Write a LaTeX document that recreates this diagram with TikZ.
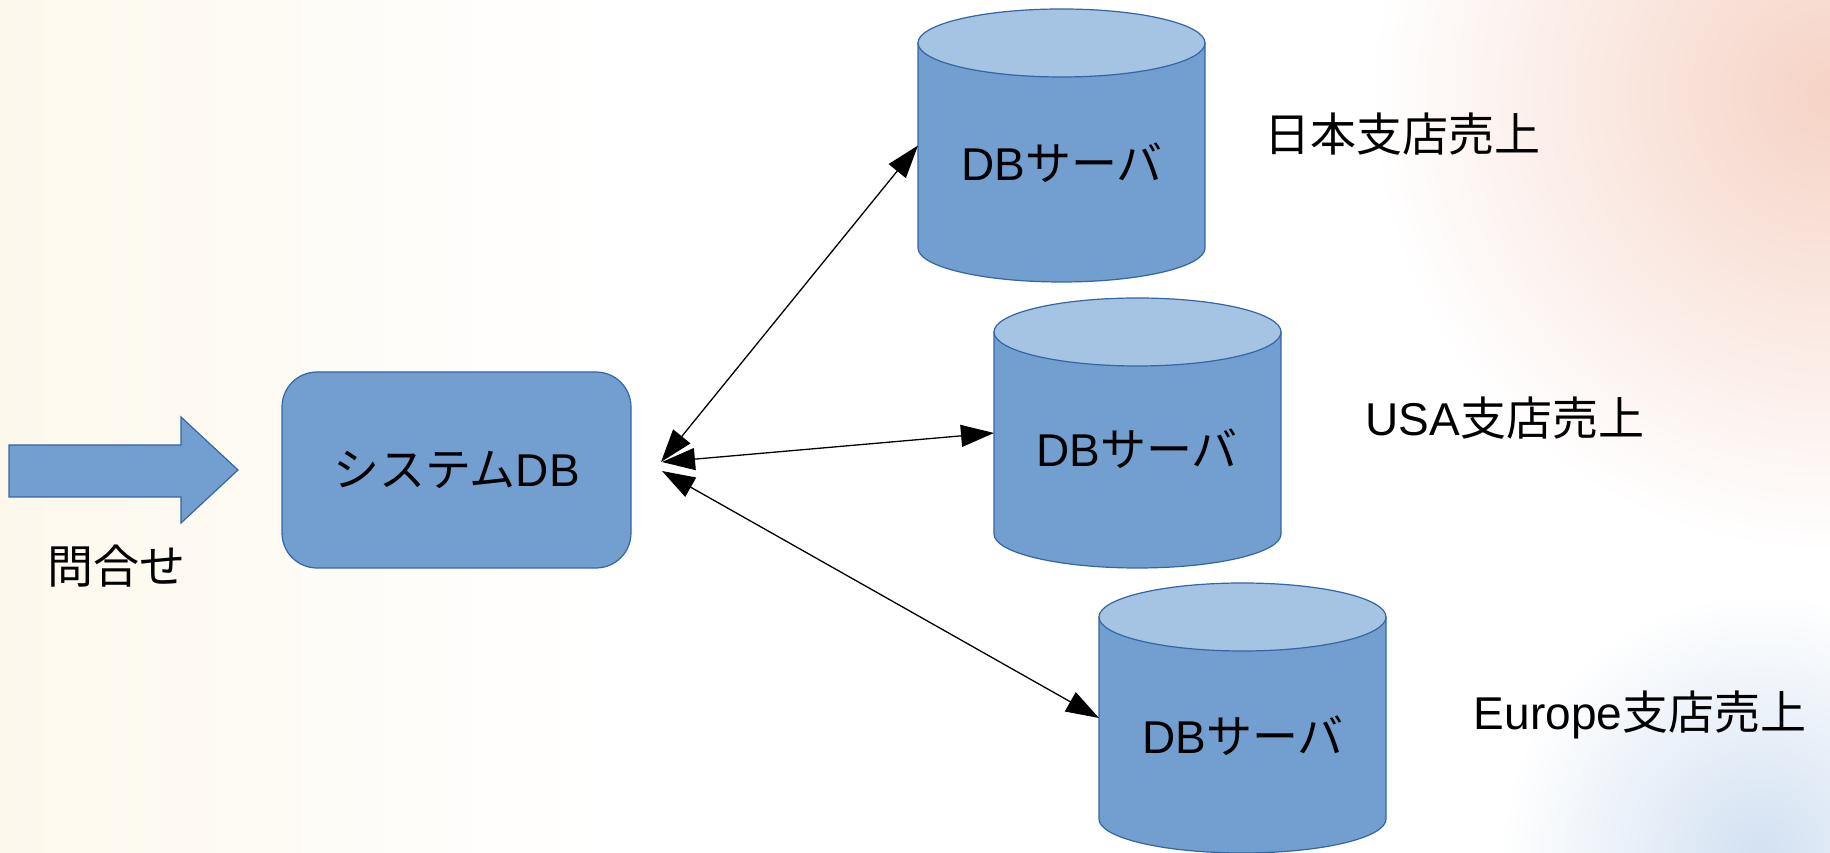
\documentclass[tikz,border=0pt]{standalone}
\usepackage{fontspec}
\setmainfont{Liberation Sans}
\newfontfamily\jp{Noto Sans CJK JP}
\usetikzlibrary{arrows.meta}
\definecolor{dbfill}{HTML}{729FCF}
\definecolor{dbtop}{HTML}{A5C3E3}
\definecolor{dbline}{HTML}{3465A4}
\definecolor{warm}{HTML}{FDF8EC}
\definecolor{peach}{HTML}{F6D3C6}
\definecolor{paleblue}{HTML}{D3E1F2}
\tikzset{
  bigtext/.style={font=\fontsize{46}{52}\selectfont, inner sep=0pt, text=black},
  shapefill/.style={fill=dbfill, draw=dbline, line width=1.2pt},
  topfill/.style={fill=dbtop, draw=dbline, line width=1.2pt},
  link/.style={line width=1.3pt, {Triangle[length=33pt,width=22pt]}-{Triangle[length=33pt,width=22pt]}},
  cylbox/.style={minimum width=287pt, minimum height=#1, inner sep=0pt, outer sep=0pt},
}
\newcommand\dbcyl[3]{%
  \path[shapefill] ({#1-143.5},#2) -- ({#1-143.5},#3)
     arc[start angle=180, end angle=360, x radius=143.5pt, y radius=34pt]
     -- ({#1+143.5},#2) -- cycle;
  \path[topfill] (#1,#2) ellipse [x radius=143.5pt, y radius=34pt];
}
\begin{document}
\begin{tikzpicture}[x=1pt, y=1pt]
\useasboundingbox (0,0) rectangle (1830,853);
% background
\fill[white] (0,0) rectangle (1830,853);
\shade[left color=warm, right color=white] (0,0) rectangle (600,853);
\begin{scope}
  \clip (0,0) rectangle (1830,853);
  \shade[inner color=peach, outer color=white] (1830,760) circle (460);
  \shade[inner color=paleblue, outer color=white] (1760,0) circle (260);
\end{scope}

% big input arrow
\path[shapefill] (9,408) -- (181,408) -- (181,436) -- (238,383) -- (181,330) -- (181,356) -- (9,356) -- cycle;
\node[bigtext] (ask) at (116,287) {\jp 問合せ};

% system box
\node[shapefill, rounded corners=35pt, minimum width=349pt, minimum height=196pt, bigtext] (sys) at (456.5,383) {{\jp システム}DB};

% cylinders
\dbcyl{1061.5}{810}{605}
\dbcyl{1137.5}{521}{319}
\dbcyl{1242.5}{236}{34}
\node[cylbox=273pt] (cyl1) at (1061.5,707.5) {};
\node[cylbox=270pt] (cyl2) at (1137.5,420) {};
\node[cylbox=270pt] (cyl3) at (1242.5,135) {};
\node[bigtext] (t1) at (1062,690) {DB{\jp サーバ}};
\node[bigtext] (t2) at (1137,404) {DB{\jp サーバ}};
\node[bigtext] (t3) at (1243,117) {DB{\jp サーバ}};

% labels
\node[bigtext] (ljp) at (1402,719) {\jp 日本支店売上};
\node[bigtext] (lusa) at (1505,435) {USA{\jp 支店売上}};
\node[bigtext] (leu) at (1640,138) {Europe{\jp 支店売上}};

% connectors
\coordinate (h1) at (661,391);
\coordinate (h2) at (662,391);
\coordinate (h3) at (662,382);
\draw[link] (h1) -- (cyl1.west);
\draw[link] (h2) -- (cyl2.west);
\draw[link] (h3) -- (cyl3.west);
\end{tikzpicture}
\end{document}
